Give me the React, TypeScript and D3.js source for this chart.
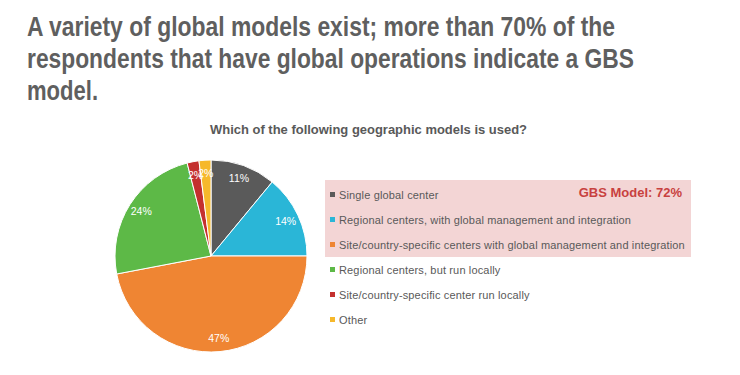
import React from 'react';
import * as d3 from 'd3';

// Survey answers (percent of respondents)
const categories = [
  'Single global center',
  'Regional centers, with global management and integration',
  'Site/country-specific centers with global management and integration',
  'Regional centers, but run locally',
  'Site/country-specific center run locally',
  'Other',
];
const shares = [11, 14, 47, 24, 2, 2];
const colors = ['#5a5a5a', '#2ab6d7', '#ef8533', '#5db947', '#c4302e', '#f6b82b'];

const titleLines = [
  'A variety of global models exist; more than 70% of the',
  'respondents that have global operations indicate a GBS',
  'model.',
];
// measured widths of the condensed title lines in the picture
const titleWidths = [588, 607, 71];
const subtitle = 'Which of the following geographic models is used?';
const gbsNote = 'GBS Model: 72%';

const App = () => {
  const width = 740;
  const height = 375;

  const cx = 211;
  const cy = 256;
  const radius = 96;

  const pie = d3
    .pie<number>()
    .sort(null)
    .value((d) => d);
  const arcs = pie(shares);

  const arc = d3.arc<d3.PieArcDatum<number>>().innerRadius(0).outerRadius(radius);
  const labelArc = d3
    .arc<d3.PieArcDatum<number>>()
    .innerRadius(radius * 0.86)
    .outerRadius(radius * 0.86);

  // legend rows
  const legendY = d3
    .scalePoint<string>()
    .domain(categories)
    .range([195, 320]);

  return (
    <svg
      width={width}
      height={height}
      style={{ position: 'absolute', left: 0, top: 0, background: '#fff' }}
    >
      {titleLines.map((t, i) => (
        <text
          key={i}
          x={27}
          y={36 + i * 32}
          textLength={titleWidths[i]}
          lengthAdjust="spacingAndGlyphs"
          fontFamily="'Liberation Sans', Arial, sans-serif"
          fontWeight="bold"
          fontSize={27}
          fill="#5f5f5f"
        >
          {t}
        </text>
      ))}

      <text
        x={210}
        y={134}
        textLength={317}
        lengthAdjust="spacingAndGlyphs"
        fontFamily="'Liberation Sans', Arial, sans-serif"
        fontWeight="bold"
        fontSize={12.5}
        fill="#595959"
      >
        {subtitle}
      </text>

      <g transform={`translate(${cx},${cy})`}>
        {arcs.map((a, i) => (
          <path key={i} d={arc(a) || ''} fill={colors[i]} stroke="#fff" strokeWidth={1} />
        ))}
        {arcs.map((a, i) => {
          const [lx, ly] = labelArc.centroid(a);
          return (
            <text
              key={i}
              x={lx}
              y={ly}
              dy="0.35em"
              textAnchor="middle"
              fontFamily="'Liberation Sans', Arial, sans-serif"
              fontSize={10.5}
              fill="#fff"
            >
              {a.data}%
            </text>
          );
        })}
      </g>

      <rect x={325} y={180} width={366} height={77} fill="#f3d5d5" />
      <text
        x={682}
        y={197}
        textAnchor="end"
        fontFamily="'Liberation Sans', Arial, sans-serif"
        fontWeight="bold"
        fontSize={13}
        fill="#c8413f"
      >
        {gbsNote}
      </text>

      {categories.map((c, i) => {
        const y = legendY(c) as number;
        return (
          <g key={c}>
            <rect x={330} y={y - 3} width={5} height={5} fill={colors[i]} />
            <text
              x={339}
              y={y}
              dy="0.35em"
              fontFamily="'Liberation Sans', Arial, sans-serif"
              fontSize={11}
              letterSpacing={0.15}
              fill="#595959"
            >
              {c}
            </text>
          </g>
        );
      })}
    </svg>
  );
};

export default App;
